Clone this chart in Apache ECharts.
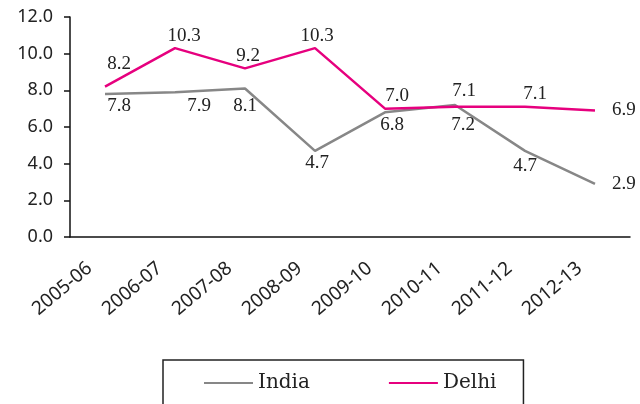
<!DOCTYPE html>
<html>
<head>
<meta charset="utf-8">
<script src="https://cdn.jsdelivr.net/npm/echarts@6/dist/echarts.min.js"></script>
<style>
  html, body { margin: 0; padding: 0; background: #fff; }
  #chart { width: 640px; height: 404px; }
</style>
</head>
<body>
<div id="chart"></div>
<script>
var years = ['2005-06', '2006-07', '2007-08', '2008-09', '2009-10', '2010-11', '2011-12', '2012-13'];
var india = [7.8, 7.9, 8.1, 4.7, 6.8, 7.2, 4.7, 2.9];
var delhi = [8.2, 10.3, 9.2, 10.3, 7.0, 7.1, 7.1, 6.9];

// label placement per point [position, dx, dy]
var indiaLabelPos = [
  ['bottom', 14, 0], ['bottom', 24, 1], ['bottom', 0, 5], ['bottom', 2, 0],
  ['bottom', 7, 0], ['bottom', 8, 8], ['bottom', 0, 3], ['right', 14, 0]
];
var delhiLabelPos = [
  ['top', 14, -10], ['top', 9, 0], ['top', 3, 0], ['top', 2, 0],
  ['top', 12, 0], ['top', 9, -3], ['top', 10, 0], ['right', 14, 0]
];

function buildData(values, pos) {
  return values.map(function (v, i) {
    return {
      value: v,
      label: { position: pos[i][0], offset: [pos[i][1], pos[i][2]] }
    };
  });
}

var chart = echarts.init(document.getElementById('chart'));
var labelStyle = {
  show: true,
  fontFamily: 'Liberation Serif',
  fontSize: 19,
  color: '#222',
  distance: 3,
  formatter: function (p) { return p.value.toFixed(1); }
};
chart.setOption({
  animation: false,
  grid: { left: 70, right: 10, top: 17, bottom: 167 },
  legend: {
    left: 163,
    top: 360,
    padding: [13, 27, 40, 40],
    itemGap: 78,
    itemWidth: 49,
    itemHeight: 14,
    borderColor: '#222',
    borderWidth: 1.5,
    itemStyle: { opacity: 0 },
    textStyle: { fontFamily: 'DejaVu Serif', fontSize: 20, color: '#222' },
    data: ['India', 'Delhi']
  },
  xAxis: {
    type: 'category',
    data: years,
    axisLine: { lineStyle: { color: '#111', width: 1.5 } },
    axisTick: { length: 5, lineStyle: { color: '#111', width: 1.5 } },
    axisLabel: {
      rotate: 40,
      interval: 0,
      margin: 16,
      padding: [0, 20, 0, 0],
      fontFamily: 'Noto Sans',
      fontSize: 19,
      color: '#222'
    }
  },
  yAxis: {
    type: 'value',
    min: 0,
    max: 12,
    interval: 2,
    splitLine: { show: false },
    axisLine: { show: true, lineStyle: { color: '#111', width: 1.5 } },
    axisTick: { show: true, length: 6, lineStyle: { color: '#111', width: 1.5 } },
    axisLabel: {
      margin: 17,
      fontFamily: 'Noto Sans',
      fontSize: 18,
      color: '#222',
      formatter: function (v) { return v.toFixed(1); }
    }
  },
  series: [
    {
      name: 'India',
      type: 'line',
      symbol: 'circle',
      symbolSize: 0,
      data: buildData(india, indiaLabelPos),
      lineStyle: { color: '#878787', width: 2.5 },
      itemStyle: { color: '#878787' },
      label: labelStyle
    },
    {
      name: 'Delhi',
      type: 'line',
      symbol: 'circle',
      symbolSize: 0,
      data: buildData(delhi, delhiLabelPos),
      lineStyle: { color: '#e6007e', width: 2.5 },
      itemStyle: { color: '#e6007e' },
      label: labelStyle
    }
  ]
});
</script>
</body>
</html>
